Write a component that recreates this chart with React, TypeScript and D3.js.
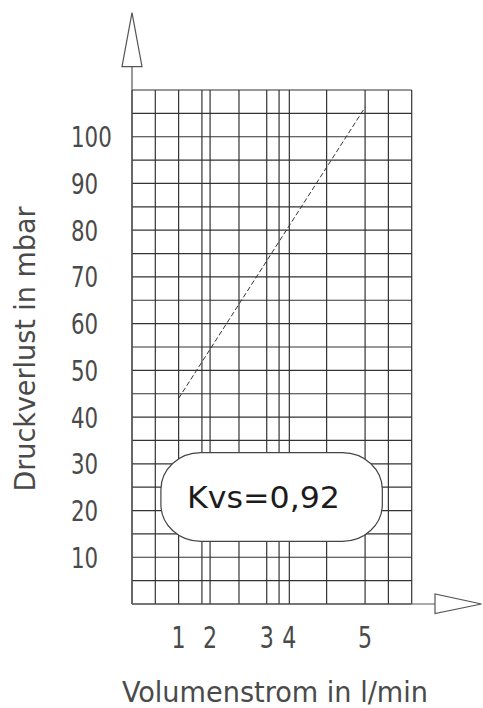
import React from "react";
import * as d3 from "d3";

// vertical grid lines, in grid columns (the plot is 12 columns wide)
const gridCols = [0, 1, 2, 3, 3.35, 4.59, 5.78, 6.31, 6.75, 8.35, 10, 11, 12];
// flow ticks (l/min) and the column they sit on
const flowLabels = ["1", "2", "3", "4", "5"];
const flowCols = [2, 3.35, 5.78, 6.75, 10];
// pressure axis (mbar)
const pressureTicks = [10, 20, 30, 40, 50, 60, 70, 80, 90, 100];
const pressureMax = 110;
const pressureStep = 5;
// dashed characteristic line: column / pressure
const curveCols = [2, 10];
const curvePressure = [44, 106.3];
// annotation box
const kvsText = "Kvs=0,92";
const kvsBoxCols = [1.24, 10.74];
const kvsBoxPressure = [13.4, 32.4];

const W = 483;
const H = 708;
const margin = { top: 90, right: 71.3, bottom: 104, left: 132 };

const App: React.FC = () => {
  const x = d3
    .scaleLinear()
    .domain([0, 12])
    .range([margin.left, W - margin.right]);

  const y = d3
    .scaleLinear()
    .domain([0, pressureMax])
    .range([H - margin.bottom, margin.top]);

  const rows = d3.range(0, pressureMax + 0.001, pressureStep);

  const line = d3
    .line<number>()
    .x((d) => x(curveCols[d]))
    .y((d) => y(curvePressure[d]));

  const x0 = x(0);
  const y0 = y(0);
  const gridColor = "#333";
  const textColor = "#4a4a4a";
  const font = "'DejaVu Sans Condensed', 'DejaVu Sans', sans-serif";
  const narrow = 0.82; // the drawing font is a narrow DIN face

  const bx0 = x(kvsBoxCols[0]);
  const bx1 = x(kvsBoxCols[1]);
  const by0 = y(kvsBoxPressure[1]);
  const by1 = y(kvsBoxPressure[0]);

  return (
    <svg
      width={W}
      height={H}
      style={{ position: "absolute", left: 0, top: 0, background: "#fff" }}
    >
      {/* grid */}
      <g stroke={gridColor} strokeWidth={1.2}>
        {rows.map((r) => (
          <line key={"r" + r} x1={x0} x2={x(12)} y1={y(r)} y2={y(r)} />
        ))}
        {gridCols.map((c) => (
          <line key={"c" + c} x1={x(c)} x2={x(c)} y1={y0} y2={y(pressureMax)} />
        ))}
      </g>

      {/* axes with hollow arrows */}
      <g stroke="#555" strokeWidth={1.2} fill="#fff">
        <line x1={x0} x2={x0} y1={y0} y2={66.7} />
        <line x1={x0} x2={435} y1={y0} y2={y0} />
        <polygon points={`${x0 - 10},66.7 ${x0 + 10},66.7 ${x0},12.7`} />
        <polygon points={`435,${y0 - 10} 435,${y0 + 9.5} 481.5,${y0}`} />
      </g>

      {/* characteristic line */}
      <path
        d={line([0, 1]) || ""}
        fill="none"
        stroke="#333"
        strokeWidth={1}
        strokeDasharray="5,2.5"
      />

      {/* Kvs label */}
      <rect
        x={bx0}
        y={by0}
        width={bx1 - bx0}
        height={by1 - by0}
        rx={40}
        ry={37}
        fill="#fff"
        stroke="#444"
        strokeWidth={1.2}
      />
      <text
        x={263.5}
        y={508}
        textAnchor="middle"
        fontFamily="'DejaVu Sans', sans-serif"
        fontSize={31}
        fill="#1c1c1c"
        textLength={153}
        lengthAdjust="spacingAndGlyphs"
      >
        {kvsText}
      </text>

      {/* pressure tick labels */}
      {pressureTicks.map((t) => (
        <text
          key={t}
          transform={`translate(71, ${y(t) + 10.5}) scale(${narrow}, 1)`}
          fontFamily={font}
          fontSize={29}
          fill={textColor}
        >
          {t}
        </text>
      ))}

      {/* flow tick labels */}
      {flowLabels.map((l, i) => (
        <text
          key={l}
          transform={`translate(${x(flowCols[i])}, 648) scale(${narrow}, 1)`}
          textAnchor="middle"
          fontFamily={font}
          fontSize={30}
          fill={textColor}
        >
          {l}
        </text>
      ))}

      {/* axis titles */}
      <text
        x={275}
        y={702}
        textAnchor="middle"
        fontFamily={font}
        fontSize={28}
        fill={textColor}
        textLength={306}
        lengthAdjust="spacingAndGlyphs"
      >
        Volumenstrom in l/min
      </text>
      <text
        transform={`translate(35, 349) rotate(-90)`}
        textAnchor="middle"
        fontFamily={font}
        fontSize={28}
        fill={textColor}
        textLength={285}
        lengthAdjust="spacingAndGlyphs"
      >
        Druckverlust in mbar
      </text>
    </svg>
  );
};

export default App;
